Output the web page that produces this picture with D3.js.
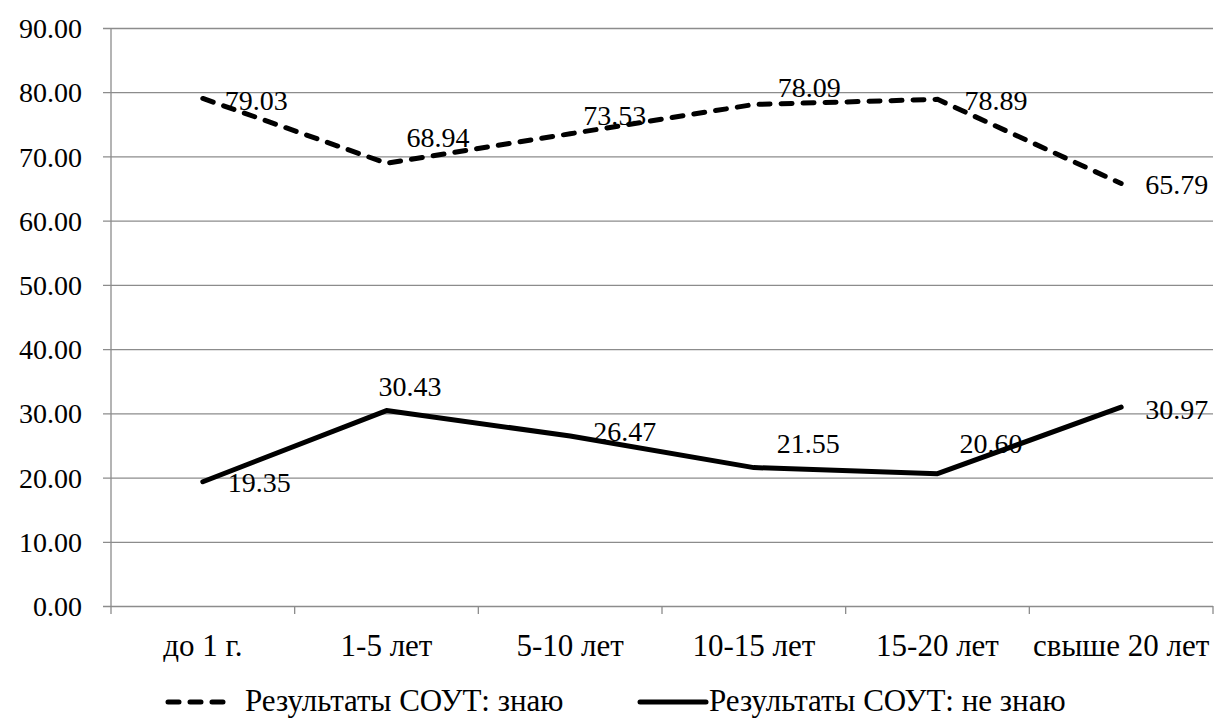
<!DOCTYPE html>
<html>
<head>
<meta charset="utf-8">
<script src="https://cdn.jsdelivr.net/npm/d3@7"></script>
<style>
  body { margin: 0; background: #fff; }
  svg text { font-family: 'Liberation Serif', 'Times New Roman', 'Liberation Sans', serif; fill: #000; }
</style>
</head>
<body>
<svg width="1218" height="718"></svg>
<script>
const categories = ['до 1 г.', '1-5 лет', '5-10 лет', '10-15 лет', '15-20 лет', 'свыше 20 лет'];
const knowValues = [79.03, 68.94, 73.53, 78.09, 78.89, 65.79];
const dontKnowValues = [19.35, 30.43, 26.47, 21.55, 20.60, 30.97];
const yTicks = [0, 10, 20, 30, 40, 50, 60, 70, 80, 90];
const seriesNames = ['Результаты СОУТ: знаю', 'Результаты СОУТ: не знаю'];

// label nudges (left edge dx, centre dy) as placed in the original
const knowNudge = [[22, 1], [20, -26], [13, -19], [24, -18], [27, 1], [24, 0]];
const dontKnowNudge = [[25, 0], [-8, -25], [23, -5], [23, -25], [22, -31], [24, 2]];

const svg = d3.select('svg');
const plotLeft = 111, plotRight = 1213, plotTop = 28, plotBottom = 606;
const numSize = 28;
const textSize = 31;

const xScale = d3.scaleBand()
  .domain(categories)
  .range([plotLeft, plotRight])
  .padding(0);

const yScale = d3.scaleLinear()
  .domain([0, 90])
  .range([plotBottom, plotTop]);

const cx = (c) => xScale(c) + xScale.bandwidth() / 2;

// grid + y labels
svg.append('g')
  .attr('transform', `translate(${plotLeft}, 0)`)
  .call(d3.axisLeft(yScale)
    .tickValues(yTicks)
    .tickSize(-(plotRight - plotLeft))
    .tickFormat(''))
  .call(g => g.select('.domain').remove())
  .call(g => g.selectAll('.tick line')
    .attr('x1', -8)
    .attr('stroke', '#8c8c8c')
    .attr('stroke-width', 1.3));

svg.append('line')
  .attr('x1', plotLeft).attr('x2', plotLeft)
  .attr('y1', plotTop).attr('y2', plotBottom)
  .attr('stroke', '#8c8c8c')
  .attr('stroke-width', 1.3);

svg.append('g')
  .selectAll('text')
  .data(yTicks)
  .enter()
  .append('text')
  .attr('x', 82)
  .attr('y', (d) => yScale(d) + numSize * 0.36)
  .attr('text-anchor', 'end')
  .style('font-size', numSize + 'px')
  .text((d) => d.toFixed(2));

// x axis ticks at band edges
const edges = categories.map((c) => xScale(c)).concat([plotRight]);
svg.append('g')
  .selectAll('line')
  .data(edges)
  .enter()
  .append('line')
  .attr('x1', (d) => d).attr('x2', (d) => d)
  .attr('y1', plotBottom).attr('y2', plotBottom + 8)
  .attr('stroke', '#8c8c8c')
  .attr('stroke-width', 1.3);

svg.append('g')
  .selectAll('text')
  .data(categories)
  .enter()
  .append('text')
  .attr('x', (d) => cx(d))
  .attr('y', 656)
  .attr('text-anchor', 'middle')
  .style('font-size', textSize + 'px')
  .text((d) => d);

const line = d3.line()
  .x((d, i) => cx(categories[i]))
  .y((d) => yScale(d));

svg.append('path')
  .datum(knowValues)
  .attr('d', line)
  .attr('fill', 'none')
  .attr('stroke', '#000')
  .attr('stroke-width', 5)
  .attr('stroke-linecap', 'round')
  .attr('stroke-dasharray', '11,11');

svg.append('path')
  .datum(dontKnowValues)
  .attr('d', line)
  .attr('fill', 'none')
  .attr('stroke', '#000')
  .attr('stroke-width', 5)
  .attr('stroke-linejoin', 'round')
  .attr('stroke-linecap', 'round');

const addLabels = (values, nudge) => {
  svg.append('g')
    .selectAll('text')
    .data(values)
    .enter()
    .append('text')
    .attr('x', (d, i) => cx(categories[i]) + nudge[i][0])
    .attr('y', (d, i) => yScale(d) + nudge[i][1] + numSize * 0.36)
    .attr('text-anchor', 'start')
    .style('font-size', numSize + 'px')
    .text((d) => d.toFixed(2));
};
addLabels(knowValues, knowNudge);
addLabels(dontKnowValues, dontKnowNudge);

// legend
const legend = svg.append('g');
legend.append('line')
  .attr('x1', 168).attr('x2', 224)
  .attr('y1', 702).attr('y2', 702)
  .attr('stroke', '#000')
  .attr('stroke-width', 5)
  .attr('stroke-linecap', 'round')
  .attr('stroke-dasharray', '11,11');
legend.append('text')
  .attr('x', 245)
  .attr('y', 711)
  .style('font-size', textSize + 'px')
  .text(seriesNames[0]);

legend.append('line')
  .attr('x1', 640).attr('x2', 706)
  .attr('y1', 702).attr('y2', 702)
  .attr('stroke', '#000')
  .attr('stroke-width', 5)
  .attr('stroke-linecap', 'round');
legend.append('text')
  .attr('x', 709)
  .attr('y', 711)
  .style('font-size', textSize + 'px')
  .text(seriesNames[1]);
</script>
</body>
</html>
